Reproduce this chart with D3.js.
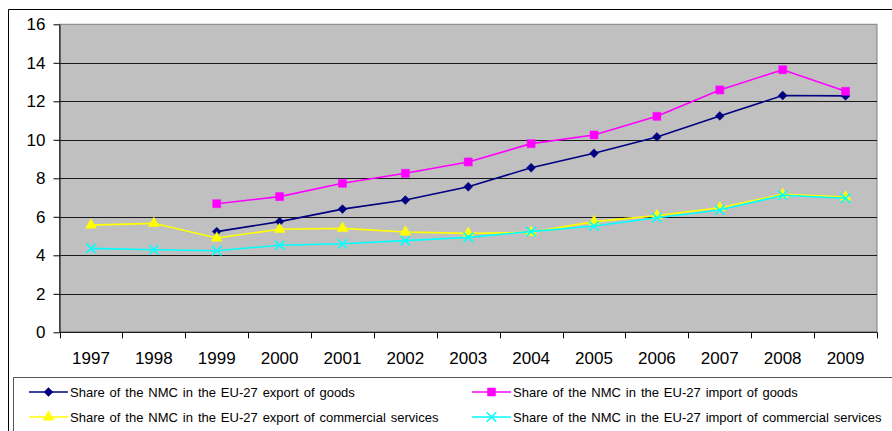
<!DOCTYPE html>
<html>
<head>
<meta charset="utf-8">
<script src="https://cdn.jsdelivr.net/npm/d3@7"></script>
<style>
  html, body { margin: 0; padding: 0; background: #fff; }
  svg { display: block; font-family: Arial, "Liberation Sans", sans-serif; }
</style>
</head>
<body>
<svg id="chart" width="892" height="431"></svg>
<script>
// Years on the category axis
const years = ["1997", "1998", "1999", "2000", "2001", "2002", "2003",
               "2004", "2005", "2006", "2007", "2008", "2009"];

// Shares (%) of the new member countries in EU-27 trade; null = no data
const exportGoods    = [null, null, 5.23, 5.75, 6.4, 6.87, 7.56, 8.55, 9.3, 10.15, 11.24, 12.3, 12.28];
const importGoods    = [null, null, 6.68, 7.05, 7.74, 8.26, 8.85, 9.8, 10.25, 11.22, 12.59, 13.64, 12.52];
const exportServices = [5.57, 5.66, 4.9, 5.35, 5.4, 5.21, 5.14, 5.19, 5.75, 6.06, 6.47, 7.17, 7.03];
const importServices = [4.36, 4.29, 4.24, 4.52, 4.6, 4.76, 4.93, 5.23, 5.52, 5.95, 6.35, 7.12, 6.96];

const yTicks = [0, 2, 4, 6, 8, 10, 12, 14, 16];

const seriesNames = [
  "Share of the NMC in the EU-27 export of goods",
  "Share of the NMC in the EU-27 import of goods",
  "Share of the NMC in the EU-27 export of commercial services",
  "Share of the NMC in the EU-27 import of commercial services"
];

const series = [
  { name: seriesNames[0], values: exportGoods,    color: "#000080", marker: "diamond" },
  { name: seriesNames[1], values: importGoods,    color: "#FF00FF", marker: "square" },
  { name: seriesNames[2], values: exportServices, color: "#FFFF00", marker: "triangle" },
  { name: seriesNames[3], values: importServices, color: "#00FFFF", marker: "cross" }
];

const svg = d3.select("#chart");

// Outer chart frame (left and top edges visible)
svg.append("path")
  .attr("d", "M8.5,431 V9.5 H892")
  .attr("fill", "none").attr("stroke", "#000").attr("stroke-width", 1);

const plot = { left: 59.5, right: 877, top: 24.3, bottom: 332.3 };

const x = d3.scaleBand().domain(years).range([plot.left, plot.right]);
const y = d3.scaleLinear().domain([0, 16]).range([plot.bottom, plot.top]);

// Plot background
svg.append("rect")
  .attr("x", plot.left).attr("y", plot.top)
  .attr("width", plot.right - plot.left).attr("height", plot.bottom - plot.top)
  .attr("fill", "#C0C0C0").attr("stroke", "#808080").attr("stroke-width", 1);

// Horizontal gridlines
const crisp = v => Math.round(v) + 0.5;
svg.append("g").selectAll("line")
  .data(yTicks.filter(t => t > 0 && t < 16))
  .join("line")
  .attr("x1", plot.left).attr("x2", plot.right)
  .attr("y1", d => crisp(y(d))).attr("y2", d => crisp(y(d)))
  .attr("stroke", "#1a1a1a").attr("stroke-width", 1);

// Y axis
const yAxis = svg.append("g")
  .attr("transform", `translate(${plot.left},0)`)
  .call(d3.axisLeft(y).tickValues(yTicks).tickSize(6).tickPadding(8).tickSizeOuter(0));
yAxis.select(".domain").attr("stroke", "#000");
yAxis.selectAll(".tick line").attr("stroke", "#000");
yAxis.selectAll(".tick text")
  .attr("font-size", 17).attr("fill", "#000")
  .attr("font-family", "Arial, 'Liberation Sans', sans-serif");

// X axis: tick marks at category boundaries, labels centred in each band
const xAxis = svg.append("g").attr("transform", `translate(0,${plot.bottom})`);
xAxis.append("line")
  .attr("x1", plot.left).attr("x2", plot.right)
  .attr("y1", 0).attr("y2", 0).attr("stroke", "#000");
const boundaries = years.map(d => x(d)).concat([x(years[years.length - 1]) + x.bandwidth()]);
xAxis.selectAll("line.tk").data(boundaries).join("line").attr("class", "tk")
  .attr("x1", d => crisp(d)).attr("x2", d => crisp(d))
  .attr("y1", 0).attr("y2", 6).attr("stroke", "#000");
xAxis.selectAll("text").data(years).join("text")
  .attr("x", d => x(d) + x.bandwidth() / 2)
  .attr("y", 32)
  .attr("text-anchor", "middle")
  .attr("font-size", 17).attr("fill", "#000")
  .text(d => d);

// Marker shapes
const markerPath = {
  diamond: d3.symbol().type(d3.symbolDiamond2 || d3.symbolDiamond).size(50),
  square: d3.symbol().type(d3.symbolSquare).size(64),
  triangle: d3.symbol().type(d3.symbolTriangle).size(52),
  cross: d3.symbol().type(d3.symbolTimes || d3.symbolX).size(60)
};

function drawMarker(g, s, cx, cy) {
  const p = g.append("path")
    .attr("d", markerPath[s.marker]())
    .attr("transform", `translate(${cx},${cy})`);
  if (s.marker === "cross") {
    p.attr("fill", "none").attr("stroke", s.color).attr("stroke-width", 1.6);
  } else {
    p.attr("fill", s.color).attr("stroke", s.color).attr("stroke-width", 0.5);
  }
}

const line = d3.line()
  .defined(d => d.v != null)
  .x(d => x(d.year) + x.bandwidth() / 2)
  .y(d => y(d.v));

series.forEach(s => {
  const pts = years.map((yr, i) => ({ year: yr, v: s.values[i] }));
  const g = svg.append("g");
  g.append("path")
    .datum(pts)
    .attr("d", line)
    .attr("fill", "none")
    .attr("stroke", s.color)
    .attr("stroke-width", 1.6);
  pts.filter(p => p.v != null).forEach(p =>
    drawMarker(g, s, x(p.year) + x.bandwidth() / 2, y(p.v)));
});

// Legend box
svg.append("path")
  .attr("d", "M13.5,431 V377.5 H892")
  .attr("fill", "none").attr("stroke", "#555").attr("stroke-width", 1);

const legendPos = [
  { x: 29, y: 392 }, { x: 472, y: 392 },
  { x: 29, y: 417 }, { x: 472, y: 417 }
];
series.forEach((s, i) => {
  const p = legendPos[i];
  const g = svg.append("g");
  g.append("line")
    .attr("x1", p.x).attr("x2", p.x + 39)
    .attr("y1", p.y).attr("y2", p.y)
    .attr("stroke", s.color).attr("stroke-width", 1.6);
  drawMarker(g, s, p.x + 19.5, p.y);
  g.append("text")
    .attr("x", p.x + 41).attr("y", p.y + 4.5)
    .attr("font-size", 13).attr("fill", "#000")
    .attr("word-spacing", 1.3)
    .text(s.name);
});
</script>
</body>
</html>
